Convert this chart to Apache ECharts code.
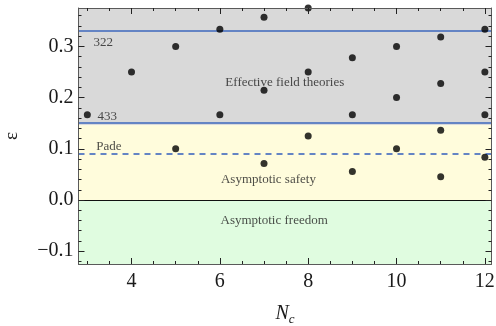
<!DOCTYPE html>
<html><head><meta charset="utf-8">
<script src="https://cdn.jsdelivr.net/npm/echarts@6/dist/echarts.min.js"></script>
<style>html,body{margin:0;padding:0;background:#fff}#c{width:496px;height:326px}</style>
</head><body><div id="c"></div>
<script>
// Data (epsilon values per N_c)
const ncValues = [3, 4, 5, 5, 6, 6, 7, 7, 7, 8, 8, 8, 9, 9, 9, 10, 10, 10, 11, 11, 11, 11, 12, 12, 12, 12];
const epsValues = [0.1667, 0.25, 0.1, 0.3, 0.1667, 0.3333, 0.0714, 0.2143, 0.3571, 0.125, 0.25, 0.375,
  0.0556, 0.1667, 0.2778, 0.1, 0.2, 0.3, 0.0455, 0.1364, 0.2273, 0.3182, 0.0833, 0.1667, 0.25, 0.3333];
// Reference lines
const line322 = 0.327;
const line433 = 0.146;
const linePade = 0.088;
const lineZero = 0;
// Regions
const regionBounds = { top: 0.375, eftLow: 0.146, safetyLow: 0, bottom: -0.125 };
// Annotations
const annX = [3.36, 3.45, 3.49, 7.47, 7.1, 7.23];
const annY = [0.308, 0.163, 0.105, 0.23, 0.039, -0.041];
const annText = ['322', '433', 'Pade', 'Effective field theories', 'Asymptotic safety', 'Asymptotic freedom'];
// Ticks
const xMajor = [4, 6, 8, 10, 12];
const xMinor = [3, 3.5, 4.5, 5, 5.5, 6.5, 7, 7.5, 8.5, 9, 9.5, 10.5, 11, 11.5];
const yMajor = [-0.1, 0, 0.1, 0.2, 0.3];
const yMinor = [-0.12, -0.08, -0.06, -0.04, -0.02, 0.02, 0.04, 0.06, 0.08, 0.12, 0.14, 0.16, 0.18,
  0.22, 0.24, 0.26, 0.28, 0.32, 0.34, 0.36];

const X_MIN = 2.8, X_MAX = 12.15, Y_MIN = -0.125, Y_MAX = 0.375;
const serif = '"Liberation Serif", "DejaVu Serif", serif';
const frameColor = '#5a5a5a';
const blue = '#6484c4';
const gridRect = { left: 78.5, right: 4.5, top: 8, bottom: 62, containLabel: false, outerBoundsMode: 'none' };

function fmtY(v) {
  const s = Math.abs(v).toFixed(1);
  return v < -1e-9 ? '\u2212' + s : s;
}
function xAxisDef(grid, pos, vals, len, labels, lineShow, extra) {
  return Object.assign({
    type: 'value', gridIndex: grid, position: pos, min: X_MIN, max: X_MAX, z: 20,
    axisLine: { show: lineShow, onZero: false, lineStyle: { color: frameColor, width: 1 } },
    axisTick: { show: true, inside: true, length: len, customValues: vals, lineStyle: { color: '#222', width: 1 } },
    axisLabel: labels ? { show: true, customValues: vals, fontFamily: serif, fontSize: 20, color: '#1a1a1a', margin: 8 } : { show: false },
    splitLine: { show: false }
  }, extra || {});
}
function yAxisDef(grid, pos, vals, len, labels, lineShow, extra) {
  return Object.assign({
    type: 'value', gridIndex: grid, position: pos, min: Y_MIN, max: Y_MAX, z: 20,
    axisLine: { show: lineShow, onZero: false, lineStyle: { color: frameColor, width: 1 } },
    axisTick: { show: true, inside: true, length: len, customValues: vals, lineStyle: { color: '#222', width: 1 } },
    axisLabel: labels ? { show: true, customValues: vals, fontFamily: serif, fontSize: 20, color: '#1a1a1a', margin: 5, formatter: fmtY } : { show: false },
    splitLine: { show: false }
  }, extra || {});
}

const chart = echarts.init(document.getElementById('c'), null, { renderer: 'canvas' });
const option = {
  animation: false,
  grid: [Object.assign({}, gridRect), Object.assign({}, gridRect)],
  xAxis: [
    xAxisDef(0, 'bottom', xMajor, 6, true, true, {
      name: '{n|N}{s|c}', nameLocation: 'middle', nameGap: 37,
      nameTextStyle: { rich: {
        n: { fontFamily: serif, fontStyle: 'italic', fontSize: 20, color: '#1a1a1a' },
        s: { fontFamily: serif, fontStyle: 'italic', fontSize: 13, color: '#1a1a1a', verticalAlign: 'bottom', padding: [12, 0, 0, 0] }
      } }
    }),
    xAxisDef(0, 'top', xMajor, 6, false, true),
    xAxisDef(1, 'bottom', xMinor, 3, false, false),
    xAxisDef(1, 'top', xMinor, 3, false, false)
  ],
  yAxis: [
    yAxisDef(0, 'left', yMajor, 6, true, true, {
      name: '\u03b5', nameLocation: 'middle', nameGap: 57, nameRotate: 90,
      nameTextStyle: { fontFamily: serif, fontSize: 19, color: '#1a1a1a' }
    }),
    yAxisDef(0, 'right', yMajor, 6, false, true),
    yAxisDef(1, 'left', yMinor, 3, false, false),
    yAxisDef(1, 'right', yMinor, 3, false, false)
  ],
  series: [
    {
      type: 'line', data: [], xAxisIndex: 0, yAxisIndex: 0, silent: true, z: 1,
      markArea: {
        silent: true,
        data: [
          [{ yAxis: regionBounds.eftLow, itemStyle: { color: '#d9d9d9' } }, { yAxis: regionBounds.top }],
          [{ yAxis: regionBounds.safetyLow, itemStyle: { color: '#fffcdc' } }, { yAxis: regionBounds.eftLow }],
          [{ yAxis: regionBounds.bottom, itemStyle: { color: '#e0fce0' } }, { yAxis: regionBounds.safetyLow }]
        ]
      },
      markLine: {
        silent: true, symbol: 'none', label: { show: false },
        data: [
          { yAxis: line322, lineStyle: { color: blue, width: 2, type: 'solid' } },
          { yAxis: line433, lineStyle: { color: blue, width: 2, type: 'solid' } },
          { yAxis: linePade, lineStyle: { color: blue, width: 2, type: [6, 5] } },
          { yAxis: lineZero, lineStyle: { color: '#111', width: 1, type: 'solid' } }
        ]
      }
    },
    {
      type: 'scatter', xAxisIndex: 0, yAxisIndex: 0, symbolSize: 0, silent: true,
      data: annX.map((x, i) => ({ value: [x, annY[i]], name: annText[i] })),
      label: { show: true, position: 'inside', formatter: p => p.name, fontFamily: serif, fontSize: 13, color: '#222' },
      z: 5
    },
    {
      type: 'scatter', xAxisIndex: 0, yAxisIndex: 0, symbol: 'circle', symbolSize: 7, clip: true,
      itemStyle: { color: '#000' },
      data: ncValues.map((x, i) => [x, epsValues[i]]),
      z: 6
    }
  ]
};
chart.setOption(option);
</script>
</body></html>
